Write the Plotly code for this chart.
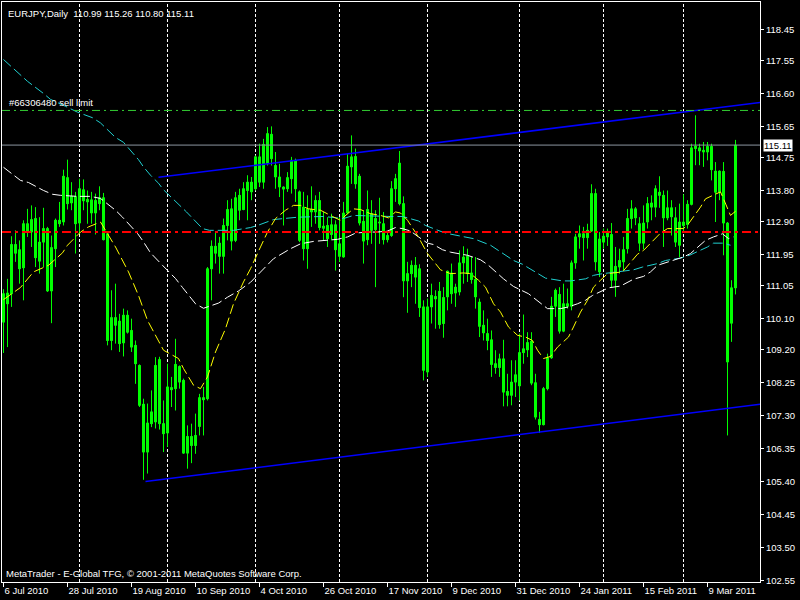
import plotly.graph_objects as go
import pandas as pd

# ---------------- data ----------------
dates = [d.strftime("%-d %b %Y") for d in pd.bdate_range("2010-07-06", periods=184)]

opens = [110.00,110.84,110.82,112.24,112.09,111.57,112.84,112.60,112.99,111.76,
         112.31,112.70,110.90,112.12,112.94,112.89,114.17,113.44,113.63,112.86,
         113.82,113.47,113.53,113.15,113.42,113.59,112.55,109.47,110.13,110.03,
         109.40,110.20,109.76,109.33,108.75,107.63,106.25,107.07,107.12,108.92,
         107.07,106.80,108.11,108.08,108.72,108.32,106.22,106.70,106.44,106.99,
         107.82,107.79,111.54,112.19,112.28,111.90,112.79,113.27,112.36,113.66,
         113.25,113.80,114.04,113.85,114.77,114.04,114.57,115.42,114.52,114.19,
         113.90,113.85,114.14,114.67,113.76,112.12,113.27,113.18,113.18,113.51,
         112.71,112.79,112.53,112.81,112.26,111.88,113.15,114.48,114.78,114.21,
         112.91,112.38,113.13,112.67,112.89,112.84,112.38,112.50,113.85,114.59,
         113.42,111.19,111.40,111.64,111.54,110.44,108.56,110.44,110.74,110.89,
         109.96,110.73,111.42,110.84,110.87,111.71,111.90,111.42,111.23,110.58,
         109.91,109.67,109.49,108.80,108.69,108.94,108.00,107.89,108.27,108.16,
         109.12,109.20,109.45,108.25,107.19,107.04,108.08,108.97,110.46,110.80,
         109.74,110.53,110.46,111.71,112.46,112.55,112.44,112.63,113.71,111.45,
         112.31,112.46,112.53,111.21,111.59,111.74,112.12,112.99,113.27,112.84,
         112.28,112.89,113.44,113.32,113.75,113.66,113.01,113.30,113.01,112.22,
         112.89,112.82,113.40,115.01,115.03,114.96,114.91,115.07,114.36,113.75,
         114.35,112.86,109.97,110.99]
closes = [110.82,110.53,112.24,111.99,111.54,112.84,112.60,112.96,111.86,112.31,
          112.70,110.90,112.15,112.94,112.84,114.21,113.42,113.63,112.84,113.85,
          113.50,113.54,113.15,113.51,113.59,112.38,109.47,110.13,109.91,109.38,
          110.20,109.71,109.28,108.80,107.60,106.25,107.09,107.41,108.75,107.07,
          106.78,108.13,108.05,108.78,108.27,106.22,106.70,106.44,106.73,107.82,
          107.76,111.54,112.19,111.99,111.90,112.79,113.25,112.34,113.59,113.23,
          113.85,114.04,113.76,114.77,114.04,115.13,115.44,114.72,114.19,113.90,
          113.84,114.17,114.67,113.85,112.36,113.32,112.12,113.25,113.51,112.73,
          112.77,112.41,112.81,112.09,111.90,113.15,114.50,114.77,113.99,112.86,
          112.34,113.25,112.65,112.99,112.86,112.38,112.50,113.85,114.14,113.42,
          111.19,111.40,111.64,111.30,110.42,108.61,110.44,110.77,110.67,109.93,
          110.71,111.47,110.82,111.01,111.71,111.88,111.40,111.23,110.73,109.88,
          109.69,109.47,108.78,108.69,108.94,107.98,107.89,108.27,108.48,109.12,
          109.23,109.41,108.24,107.26,107.04,108.08,108.97,110.46,110.92,109.74,
          110.53,110.46,111.71,112.46,112.55,112.44,112.65,113.71,111.74,112.40,
          112.48,112.57,111.21,111.61,111.78,112.09,112.99,113.27,113.01,112.28,
          112.86,113.42,113.32,113.85,113.66,113.01,113.30,113.04,112.31,112.89,
          112.79,113.40,115.03,115.08,114.94,114.91,115.07,114.40,113.75,114.36,
          112.86,108.85,110.99,115.11]
highs = [110.95,111.25,112.48,112.65,112.36,112.94,113.27,113.37,113.32,113.03,
         113.30,112.75,112.50,112.99,113.47,114.40,114.69,114.04,113.76,114.14,
         114.12,113.80,113.76,113.71,113.92,113.73,112.60,110.92,111.11,110.24,
         110.39,110.34,110.10,109.47,108.78,107.79,107.65,108.03,108.99,109.00,
         107.74,108.80,108.42,109.52,108.75,108.37,107.02,107.07,107.36,107.93,
         108.13,111.59,112.36,112.60,112.46,112.99,113.52,113.56,113.76,113.85,
         114.04,114.24,114.19,114.81,115.15,115.29,115.63,115.65,114.91,114.57,
         113.92,114.33,114.77,114.72,113.80,113.76,113.66,113.92,113.66,113.76,
         113.18,113.03,113.13,112.94,113.03,113.47,114.86,115.39,115.01,114.28,
         113.23,113.80,113.52,113.23,113.59,113.18,112.63,114.07,114.28,114.94,
         113.63,111.74,111.78,111.88,111.67,110.63,110.68,111.11,110.92,111.16,
         111.01,111.49,111.69,111.11,112.07,112.19,112.12,111.88,111.88,110.68,
         110.34,110.10,109.76,109.19,109.09,109.49,108.51,108.90,108.90,109.67,
         110.22,109.71,109.71,108.51,107.41,108.13,109.09,110.73,110.97,111.01,
         111.11,110.97,111.78,112.55,112.79,112.75,112.84,113.98,113.85,112.60,
         112.70,112.70,112.86,112.17,112.12,112.46,113.27,113.52,113.32,113.03,
         113.37,113.61,113.66,113.95,114.21,113.80,113.80,113.52,113.32,113.42,
         113.69,113.52,115.15,115.97,115.15,115.20,115.20,115.15,114.62,114.38,
         114.62,112.89,111.21,115.26]
lows = [109.11,109.28,110.44,111.74,111.11,110.63,112.46,112.17,111.59,111.40,
        111.59,110.87,109.97,111.59,112.75,112.79,113.25,113.23,111.98,112.55,
        113.23,112.84,112.84,112.53,113.23,112.36,109.33,109.19,109.38,109.14,
        109.01,109.67,109.14,108.22,107.55,105.45,105.63,106.97,106.93,106.90,
        106.25,106.40,107.55,107.45,108.08,106.20,105.77,105.93,106.20,106.73,
        106.73,107.74,110.63,111.69,111.40,111.40,112.36,112.07,112.31,112.94,
        113.23,112.94,113.52,113.80,113.90,113.85,114.52,114.52,113.85,113.61,
        112.79,113.76,113.71,113.47,112.31,111.78,111.54,112.75,112.84,112.65,
        112.36,112.17,112.36,111.49,111.74,111.86,113.11,113.99,113.85,112.79,
        111.69,112.22,112.26,111.01,112.26,112.24,112.30,112.46,113.47,113.37,
        110.72,110.27,111.01,110.53,110.15,108.32,108.42,109.96,109.81,109.81,
        109.55,110.34,110.53,110.44,110.77,111.11,111.16,111.11,110.39,109.57,
        109.47,109.19,108.42,108.51,108.42,107.57,107.57,107.60,107.84,107.74,
        108.80,108.99,108.18,107.19,106.80,107.02,108.03,108.94,110.15,109.67,
        109.71,110.39,110.34,111.54,112.12,111.78,112.12,112.60,111.49,111.30,
        112.12,112.20,111.01,110.73,111.40,111.50,111.98,112.70,112.80,112.05,
        112.10,112.70,112.94,113.03,113.30,112.17,112.94,112.50,112.17,111.88,
        112.60,112.70,113.37,114.53,114.53,114.48,114.67,114.09,112.89,113.52,
        111.93,106.73,109.43,110.80]

# moving averages (bar position, value)
ma_fast_x = [0,4.25,7.5,11.25,14.75,16,19.25,21.25,24.25,26,28,31.25,33.75,36,38.75,40,43.75,45,47.5,
             49.25,51,53,55.5,57.5,60,61.75,64.25,66,68,70.5,72.5,74.25,76.25,79.25,82.25,84.25,86,
             87.5,89.25,91.75,94.25,96.25,98,99.25,101,103.5,106,109.25,111.75,115,116.75,118.75,
             120.5,122.5,124.25,126.25,128.5,130.5,132.25,133.5,135,136.75,138.5,141.25,142.5,144.25,
             146,147.5,149.25,151,154.75,158.5,160,164.25,166,170,171.25,174.25,175.5,179.25,180,
             181.75,183]
ma_fast_y = [110.65,111.00,111.45,111.64,112.00,112.22,112.60,112.75,112.89,112.55,112.17,111.45,
             110.77,110.05,109.43,109.19,108.95,108.66,108.18,108.08,108.42,109.14,109.81,110.53,
             111.16,111.54,112.17,112.60,112.99,113.23,113.37,113.37,113.27,113.23,113.05,112.94,
             113.13,113.27,113.25,113.13,113.08,113.01,113.18,113.15,112.94,112.50,111.98,111.51,
             111.40,111.42,111.40,111.21,111.01,110.53,110.29,109.86,109.62,109.57,109.47,109.19,
             108.95,109.01,109.28,109.57,109.86,110.29,110.63,111.01,111.21,111.40,111.45,111.96,
             112.07,112.57,112.70,112.70,112.84,113.32,113.56,113.76,113.56,113.08,113.20]

ma_mid_x = [0,4.25,6.25,10,12.25,14.25,18.5,21.75,24.25,28,29.75,33.5,34.75,36.75,39.75,43,44.75,48,
            50,53.75,56,58.75,61.75,66,67.5,71.75,74.25,77.5,79.75,83.5,86,88,91,93.5,96,98,99.75,
            101.75,103.75,106,107.5,109.75,111.75,116,119.25,121.25,125,127.5,131.25,133.5,136,
            139.25,141.25,143.5,145.5,147.25,149.25,151.25,154.25,157.5,160,161.75,163.5,166,170,
            171.75,173.5,175.5,177.5,179.75,181.25,182.5]
ma_mid_y = [114.47,114.09,114.03,113.80,113.69,113.66,113.63,113.63,113.57,113.23,113.03,112.56,
            112.36,112.00,111.64,111.26,111.00,110.53,110.40,110.55,110.72,110.90,111.15,111.67,
            111.83,112.12,112.26,112.33,112.36,112.39,112.46,112.57,112.60,112.60,112.63,112.73,
            112.70,112.63,112.46,112.28,112.24,112.09,112.02,111.93,111.80,111.64,111.25,111.03,
            110.82,110.61,110.39,110.39,110.44,110.53,110.63,110.77,110.89,110.99,111.04,111.24,
            111.32,111.45,111.64,111.74,111.88,111.98,112.17,112.36,112.46,112.55,112.41,112.46]

ma_slow_x = [0,4.25,6,10,11.75,15.5,18.5,22.25,24.25,28,30,33.75,35,36.75,38.75,40,44.5,45.75,49.75,
             51.5,57.5,61.75,63.5,66,67.5,70,73.75,80,85,87.5,91.75,96.75,99.75,101.75,103.75,105.5,
             107.5,109.75,111.75,115.5,117.5,121.75,123.75,127.5,129.75,133.75,135.5,139.75,141.75,
             145.5,147.5,149.25,154.25,157.5,159.75,163.5,165.5,169.25,171.5,174.25,176,177.5,180,
             181.75]
ma_slow_y = [117.58,117.12,116.95,116.60,116.43,116.23,116.06,115.90,115.75,115.33,115.19,114.69,
             114.48,114.24,114.01,113.82,113.34,113.18,112.70,112.65,112.65,112.73,112.79,112.89,
             112.96,112.99,113.03,113.05,112.99,113.08,113.06,113.05,113.05,112.99,112.92,112.79,
             112.70,112.60,112.54,112.46,112.41,112.22,112.07,111.78,111.67,111.40,111.27,111.19,
             111.19,111.25,111.35,111.39,111.45,111.51,111.59,111.69,111.78,111.85,111.93,112.07,
             112.17,112.28,112.28,112.22]

upper_trend_x = [38.75, 189.25]
upper_trend_y = [114.18, 116.34]
lower_trend_x = [35.5, 189.25]
lower_trend_y = [105.40, 107.63]

level_red = 112.60
level_sell_limit = 116.11
last_price = 115.11

price_ticks = ["118.45","117.55","116.60","115.65","114.75","113.80","112.90","111.95","111.05",
               "110.10","109.20","108.25","107.30","106.35","105.40","104.45","103.50","102.55"]
date_tick_idx = list(range(0, 184, 16))

header = "EURJPY,Daily\u00a0 110.99 115.26 110.80 115.11"
order_label = "#66306480 sell limit"
copyright_text = "MetaTrader - E-Global TFG, \u00a9 2001-2011 MetaQuotes Software Corp."

# ---------------- figure ----------------
FONT = "Liberation Sans, Arial, sans-serif"
n = len(opens)
idx = list(range(n))

fig = go.Figure()

# month separators
month_idx = [i for i in range(1, n) if dates[i].split()[1] != dates[i - 1].split()[1]]
for m in month_idx:
    fig.add_shape(type="line", xref="x", yref="paper", x0=m, x1=m, y0=0, y1=1,
                  line=dict(color="white", width=1, dash="3px,2px"), layer="below")

# horizontal levels
fig.add_shape(type="line", xref="paper", yref="y", x0=0, x1=1, y0=level_red, y1=level_red,
              line=dict(color="#ff0000", width=2, dash="9px,4px,3px,4px"))
fig.add_shape(type="line", xref="paper", yref="y", x0=0, x1=1, y0=level_sell_limit, y1=level_sell_limit,
              line=dict(color="#32cd32", width=1, dash="8px,4px,2px,4px"))
fig.add_shape(type="line", xref="paper", yref="y", x0=0, x1=1, y0=last_price, y1=last_price,
              line=dict(color="#8c96a0", width=1))

# wicks
wx, wy = [], []
for i in idx:
    wx += [i, i, None]
    wy += [lows[i], highs[i], None]
fig.add_trace(go.Scatter(x=wx, y=wy, mode="lines", line=dict(color="#00ff00", width=1),
                         hoverinfo="skip", showlegend=False))

# bodies
base = [min(o, c) for o, c in zip(opens, closes)]
height = [max(abs(c - o), 0.01) for o, c in zip(opens, closes)]
fig.add_trace(go.Bar(x=idx, y=height, base=base, width=0.5,
                     marker=dict(color="#ffffff", line=dict(color="#00ff00", width=1)),
                     hoverinfo="skip", showlegend=False))

# moving averages
for xs, ys, col in [(ma_slow_x, ma_slow_y, "#20d0d0"),
                    (ma_mid_x, ma_mid_y, "#ffffff"),
                    (ma_fast_x, ma_fast_y, "#ffff00")]:
    fig.add_trace(go.Scatter(x=xs, y=ys, mode="lines",
                             line=dict(color=col, width=1, dash="10px,4px"),
                             hoverinfo="skip", showlegend=False))

# trend lines
for xs, ys in [(upper_trend_x, upper_trend_y), (lower_trend_x, lower_trend_y)]:
    fig.add_trace(go.Scatter(x=xs, y=ys, mode="lines", line=dict(color="#0000ff", width=1.5),
                             hoverinfo="skip", showlegend=False))

ann_font = dict(family=FONT, size=9.5, color="white")
fig.add_annotation(xref="paper", yref="paper", x=0, y=1, xanchor="left", yanchor="top",
                   xshift=4, yshift=-4, text=header, showarrow=False, font=ann_font)
fig.add_annotation(xref="paper", yref="y", x=0, y=level_sell_limit, xanchor="left", yanchor="bottom",
                   xshift=5, yshift=0, text=order_label, showarrow=False, font=ann_font)
fig.add_annotation(xref="paper", yref="paper", x=0, y=0, xanchor="left", yanchor="bottom",
                   xshift=2, yshift=1, text=copyright_text, showarrow=False, font=ann_font)
fig.add_annotation(xref="paper", yref="y", x=1, y=last_price, xanchor="left", yanchor="middle",
                   xshift=3, text="%.2f" % last_price, showarrow=False,
                   font=dict(family=FONT, size=9.5, color="black"), bgcolor="white", borderpad=0)

fig.update_layout(
    width=800, height=600,
    margin=dict(l=2, r=40, t=2, b=18, autoexpand=False),
    paper_bgcolor="black", plot_bgcolor="black",
    showlegend=False, bargap=0,
    font=dict(family=FONT, size=9.5, color="white"),
)
fig.update_xaxes(range=[-0.375, 189.125], showgrid=False, zeroline=False,
                 showline=True, linecolor="white", linewidth=1, mirror=True,
                 ticks="outside", ticklen=4, tickcolor="white",
                 tickvals=date_tick_idx, ticktext=[dates[i] for i in date_tick_idx],
                 ticklabelposition="outside right", tickfont=dict(family=FONT, size=9.5, color="white"),
                 automargin=False)
fig.update_yaxes(range=[102.50, 119.24], side="right", showgrid=False, zeroline=False,
                 showline=True, linecolor="white", linewidth=1, mirror=True,
                 ticks="outside", ticklen=3, tickcolor="white",
                 tickvals=[float(t) for t in price_ticks], ticktext=price_ticks,
                 tickfont=dict(family=FONT, size=9.5, color="white"), automargin=False)

fig.write_html(
    "out.html",
    config={"displayModeBar": False, "staticPlot": True},
    post_script="document.body.style.margin='0';document.body.style.padding='0';"
                "document.body.style.background='black';document.body.style.overflow='hidden';",
)
